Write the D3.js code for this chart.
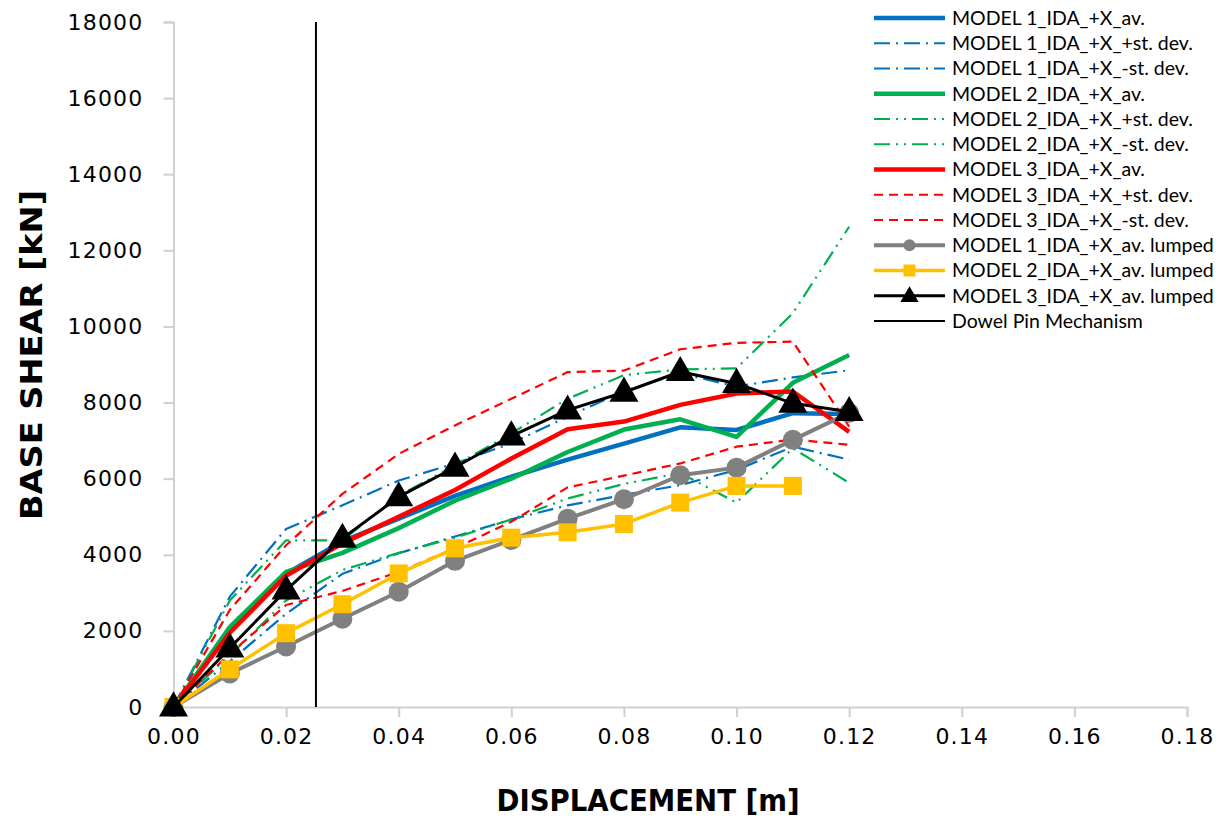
<!DOCTYPE html>
<html><head><meta charset="utf-8">
<script src="https://cdn.jsdelivr.net/npm/d3@7"></script>
<style>body{margin:0;background:#fff}svg{display:block}</style>
</head><body>
<svg id="c" width="1223" height="821"></svg>
<script>
const disp = [0,0.01,0.02,0.03,0.04,0.05,0.06,0.07,0.08,0.09,0.10,0.11,0.12];
const m1Av    = [0,2000,3500,4350,4950,5550,6050,6500,6920,7350,7280,7720,7700];
const m1Plus  = [0,2900,4680,5300,5950,6400,6930,7630,8300,8770,8420,8660,8850];
const m1Minus = [0,1200,2450,3500,4040,4480,4930,5300,5570,5830,6230,6840,6500];
const m2Av    = [0,2100,3550,4050,4700,5420,6000,6700,7290,7560,7100,8520,9250];
const m2Plus  = [0,2800,4380,4380,5550,6350,7190,8100,8720,8870,8900,10350,12620];
const m2Minus = [0,1350,2800,3600,4050,4450,4930,5480,5860,6150,5370,6800,5890];
const m3Av    = [0,1950,3450,4300,5000,5700,6530,7300,7500,7940,8240,8290,7230];
const m3Plus  = [0,2550,4250,5600,6650,7400,8100,8800,8840,9400,9570,9600,7370];
const m3Minus = [0,1400,2680,3050,3550,4170,4870,5770,6080,6400,6840,7030,6890];
const lumped1 = [0,880,1590,2320,3030,3840,4390,4950,5460,6090,6290,7020,7730];
const lumped2 = [0,990,1940,2700,3510,4170,4450,4590,4810,5370,5810,5810];
const lumped3 = [0,1550,3070,4430,5520,6300,7120,7800,8270,8810,8500,7980,7760];
const dowelX = [0.0253,0.0253];
const dowelY = [0,18000];
const xTicks = [0,0.02,0.04,0.06,0.08,0.10,0.12,0.14,0.16,0.18];
const yTicks = [0,2000,4000,6000,8000,10000,12000,14000,16000,18000];
const names = ["MODEL 1_IDA_+X_av.","MODEL 1_IDA_+X_+st. dev.","MODEL 1_IDA_+X_-st. dev.",
  "MODEL 2_IDA_+X_av.","MODEL 2_IDA_+X_+st. dev.","MODEL 2_IDA_+X_-st. dev.",
  "MODEL 3_IDA_+X_av.","MODEL 3_IDA_+X_+st. dev.","MODEL 3_IDA_+X_-st. dev.",
  "MODEL 1_IDA_+X_av. lumped","MODEL 2_IDA_+X_av. lumped","MODEL 3_IDA_+X_av. lumped","Dowel Pin Mechanism"];

const BLUE="#0070C0", GREEN="#00B050", RED="#FF0000", GRAY="#808080", YEL="#FFC000", BLK="#000000";
const DD1="16,6,2,6", DD2="16,6,2,6,2,6", DSH="9,6";
const series = [
  {name:names[0], xs:disp, ys:m1Av, color:BLUE, w:4.5},
  {name:names[1], xs:disp, ys:m1Plus, color:BLUE, w:2.2, dash:DD1},
  {name:names[2], xs:disp, ys:m1Minus, color:BLUE, w:2.2, dash:DD1},
  {name:names[3], xs:disp, ys:m2Av, color:GREEN, w:4.5},
  {name:names[4], xs:disp, ys:m2Plus, color:GREEN, w:2.2, dash:DD2},
  {name:names[5], xs:disp, ys:m2Minus, color:GREEN, w:2.2, dash:DD2},
  {name:names[6], xs:disp, ys:m3Av, color:RED, w:4.5},
  {name:names[7], xs:disp, ys:m3Plus, color:RED, w:2.2, dash:DSH},
  {name:names[8], xs:disp, ys:m3Minus, color:RED, w:2.2, dash:DSH},
  {name:names[9], xs:disp, ys:lumped1, color:GRAY, w:4, marker:"circle"},
  {name:names[10], xs:disp, ys:lumped2, color:YEL, w:3.5, marker:"square"},
  {name:names[11], xs:disp, ys:lumped3, color:BLK, w:3, marker:"triangle"},
  {name:names[12], xs:dowelX, ys:dowelY, color:BLK, w:2}
];

const svg = d3.select("#c");
const x = d3.scaleLinear().domain([0,0.18]).range([173.5,1187]);
const y = d3.scaleLinear().domain([0,18000]).range([707,22]);
const AX="#d0d0d0";

// axes
const gx = svg.append("g").attr("transform","translate(0,707)")
  .call(d3.axisBottom(x).tickValues(xTicks).tickFormat(d3.format(".2f")).tickSize(10).tickPadding(11));
const gy = svg.append("g").attr("transform","translate(173.5,0)")
  .call(d3.axisLeft(y).tickValues(yTicks).tickFormat(d3.format("d")).tickSize(10).tickPadding(20));
[gx,gy].forEach(g=>{
  g.select(".domain").attr("stroke",AX).attr("stroke-width",2);
  g.selectAll(".tick line").attr("stroke",AX).attr("stroke-width",2);
  g.selectAll(".tick text").attr("fill","#000").style("font-family","'DejaVu Sans', sans-serif")
    .style("font-size","22px").style("letter-spacing","1.2px");
});

// titles
svg.append("text").attr("x",648).attr("y",811).attr("text-anchor","middle")
  .style("font-family","'Liberation Sans Narrow','DejaVu Sans Condensed',sans-serif").style("font-weight","bold")
  .style("font-size","31px").attr("textLength",303).attr("lengthAdjust","spacingAndGlyphs").text("DISPLACEMENT [m]");
svg.append("text").attr("transform","translate(42,355) rotate(-90)").attr("text-anchor","middle")
  .style("font-family","'Liberation Sans Narrow','DejaVu Sans Condensed',sans-serif").style("font-weight","bold")
  .style("font-size","31px").attr("textLength",330).attr("lengthAdjust","spacingAndGlyphs").text("BASE SHEAR [kN]");

function drawMarker(g, type, cx, cy, color, s){
  if(type==="circle") g.append("circle").attr("cx",cx).attr("cy",cy).attr("r",s/2).attr("fill",color);
  else if(type==="square") g.append("rect").attr("x",cx-s/2).attr("y",cy-s/2).attr("width",s).attr("height",s).attr("fill",color);
  else if(type==="triangle") g.append("path").attr("d",d3.symbol().type(d3.symbolTriangle).size(s*s*0.5)()).attr("transform",`translate(${cx},${cy+1})`).attr("fill",color);
}

const plot = svg.append("g");
const line = d3.line().x(d=>x(d[0])).y(d=>y(d[1]));
series.forEach(s=>{
  const pts = s.ys.map((v,i)=>[s.xs[i],v]);
  plot.append("path").attr("d",line(pts)).attr("fill","none").attr("stroke",s.color)
    .attr("stroke-width",s.w).attr("stroke-dasharray",s.dash||null).attr("stroke-linejoin","round");
  if(s.marker){
    const sz = s.marker==="circle"?20:s.marker==="square"?18:27;
    pts.forEach(p=>drawMarker(plot,s.marker,x(p[0]),y(p[1]),s.color,sz));
  }
});

// legend
const lg = svg.append("g");
series.forEach((s,i)=>{
  const cy = 18 + i*25.25;
  lg.append("line").attr("x1",874).attr("x2",945).attr("y1",cy).attr("y2",cy)
    .attr("stroke",s.color).attr("stroke-width",s.w).attr("stroke-dasharray",s.dash||null);
  if(s.marker){
    const sz = s.marker==="circle"?12:s.marker==="square"?12:17;
    drawMarker(lg,s.marker,909.5,cy,s.color,sz);
  }
  lg.append("text").attr("x",952).attr("y",cy).attr("dy","0.35em")
    .style("font-family","Lato, 'Open Sans', sans-serif").style("font-size","19.5px").attr("fill","#000").text(s.name);
});
</script>
</body></html>
